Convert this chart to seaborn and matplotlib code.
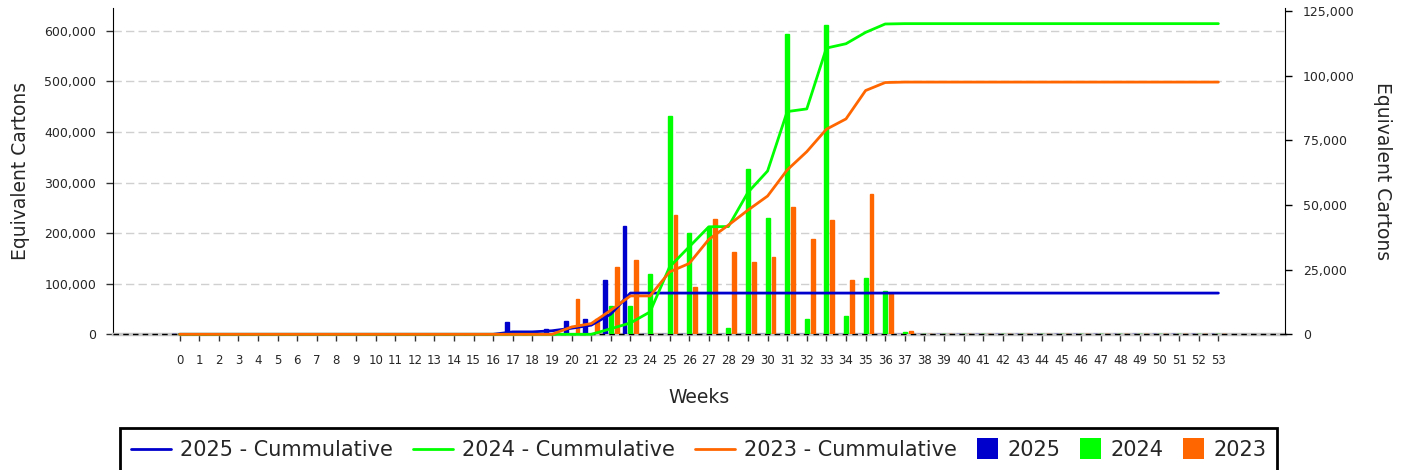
import matplotlib
matplotlib.use("Agg")
import matplotlib.pyplot as plt
from matplotlib.lines import Line2D
from matplotlib.patches import Patch
from matplotlib.legend_handler import HandlerPatch
from matplotlib.ticker import FuncFormatter
import pandas as pd
import seaborn as sns

# Weeks 0..53
weeks = list(range(54))

# Weekly volumes (right axis)
weekly_2025 = [0, 0, 0, 0, 0, 0, 0, 0, 0, 0,
               0, 0, 0, 0, 0, 0, 0, 4800, 0, 2200,
               5000, 6100, 20900, 42000, 0, 0, 0, 0, 0, 0,
               0, 0, 0, 0, 0, 0, 0, 0, 0, 0,
               0, 0, 0, 0, 0, 0, 0, 0, 0, 0,
               0, 0, 0, 0]
weekly_2024 = [0, 0, 0, 0, 0, 0, 0, 0, 0, 0,
               0, 0, 0, 0, 0, 0, 0, 0, 0, 0,
               0, 0, 10800, 10800, 23200, 84400, 39100, 41500, 2400, 63900,
               44900, 116200, 5800, 119600, 7000, 21700, 16600, 800, 0, 0,
               0, 0, 0, 0, 0, 0, 0, 0, 0, 0,
               0, 0, 0, 0]
weekly_2023 = [0, 0, 0, 0, 0, 0, 0, 0, 0, 0,
               0, 0, 0, 0, 0, 0, 0, 0, 0, 0,
               13500, 6100, 26000, 28600, 0, 46000, 18300, 44500, 31700, 27900,
               29800, 49200, 36800, 44100, 20900, 54200, 15900, 1200, 0, 0,
               0, 0, 0, 0, 0, 0, 0, 0, 0, 0,
               0, 0, 0, 0]

# Cumulative volumes (left axis)
cum_2025 = [0, 0, 0, 0, 0, 0, 0, 0, 0, 0,
            0, 0, 0, 0, 0, 0, 0, 4800, 4800, 7000,
            12000, 18100, 40000, 81500, 81500, 81500, 81500, 81500, 81500, 81500,
            81500, 81500, 81500, 81500, 81500, 81500, 81500, 81500, 81500, 81500,
            81500, 81500, 81500, 81500, 81500, 81500, 81500, 81500, 81500, 81500,
            81500, 81500, 81500, 81500]
cum_2024 = [0, 0, 0, 0, 0, 0, 0, 0, 0, 0,
            0, 0, 0, 0, 0, 0, 0, 0, 0, 0,
            0, 0, 11000, 22400, 44200, 133300, 172900, 212500, 213000, 280600,
            322800, 440200, 445500, 565700, 574300, 596700, 613300, 614000, 614000, 614000,
            614000, 614000, 614000, 614000, 614000, 614000, 614000, 614000, 614000, 614000,
            614000, 614000, 614000, 614000]
cum_2023 = [0, 0, 0, 0, 0, 0, 0, 0, 0, 0,
            0, 0, 0, 0, 0, 0, 0, 0, 0, 0,
            14500, 21200, 47500, 75900, 75900, 123400, 140000, 187500, 215800, 245500,
            273300, 324800, 361000, 405300, 425700, 481800, 497600, 498500, 498500, 498500,
            498500, 498500, 498500, 498500, 498500, 498500, 498500, 498500, 498500, 498500,
            498500, 498500, 498500, 498500]

years = ["2025", "2024", "2023"]
colors = {"2025": "#0000cc", "2024": "#00ff00", "2023": "#ff6600"}

bars_df = pd.DataFrame({
    "week": weeks * 3,
    "year": ["2025"] * 54 + ["2024"] * 54 + ["2023"] * 54,
    "value": weekly_2025 + weekly_2024 + weekly_2023,
})
lines_df = pd.DataFrame({
    "week": weeks * 3,
    "year": ["2025"] * 54 + ["2024"] * 54 + ["2023"] * 54,
    "value": cum_2025 + cum_2024 + cum_2023,
})

sns.set_style("ticks")
plt.rcParams["font.family"] = ["DejaVu Sans"]

fig = plt.figure(figsize=(14.07, 4.70), dpi=100)
rect = [0.0803, 0.2887, 0.9133 - 0.0803, 0.982 - 0.2887]
ax = fig.add_axes(rect)
ax2 = ax.twinx()
ax3 = fig.add_axes(rect, sharex=ax, sharey=ax)

# weekly bars on the right axis
sns.barplot(data=bars_df, x="week", y="value", hue="year", hue_order=years,
            palette=colors, native_scale=True, width=0.9, gap=0.33,
            saturation=1, legend=False, ax=ax2, zorder=1)
for p in ax2.patches:
    p.set_edgecolor(p.get_facecolor())
    p.set_linewidth(1)
ax2.axhline(0, color="black", lw=1, ls=(0, (4, 3)), zorder=0.5, clip_on=False)

# cumulative lines on the left axis
sns.lineplot(data=lines_df, x="week", y="value", hue="year", hue_order=years,
             palette=colors, linewidth=2.0, legend=False, ax=ax3)
for ln in ax3.lines:
    ln.set_clip_on(False)
ax3.axis("off")
ax3.patch.set_visible(False)

ax.set_xlim(-3.4, 56.4)
ax.set_ylim(0, 644000)
ax2.set_ylim(0, 126000)
ax.set_xticks(weeks)
ax.set_xticklabels([str(w) for w in weeks])
ax.set_yticks(range(0, 600001, 100000))
ax2.set_yticks(range(0, 125001, 25000))
fmt = FuncFormatter(lambda v, p: f"{int(v):,}")
ax.yaxis.set_major_formatter(fmt)
ax2.yaxis.set_major_formatter(fmt)

ax.yaxis.grid(True, color="#d0d0d0", lw=1.0, ls=(0, (6, 3)))
ax.xaxis.grid(False)

for s in ["top", "right"]:
    ax.spines[s].set_visible(False)
ax.spines["left"].set_color("black")
ax.spines["bottom"].set_color("#c8c8c8")
ax.spines["bottom"].set_linewidth(2.5)
for s in ["top", "left", "bottom"]:
    ax2.spines[s].set_visible(False)
ax2.spines["right"].set_color("black")

ax.tick_params(axis="x", length=5, width=1, color="#333333", labelsize=8.5, pad=9)
ax.tick_params(axis="y", length=5, width=1, color="#333333", labelsize=9, pad=7)
ax2.tick_params(axis="y", length=5, width=1, color="black", labelsize=9, pad=8)
ax2.tick_params(axis="x", bottom=False, labelbottom=False)

ax.set_xlabel("Weeks", fontsize=13.5, labelpad=15)
ax.set_ylabel("Equivalent Cartons", fontsize=13.5, labelpad=10)
ax2.set_ylabel("Equivalent Cartons", fontsize=13.5, rotation=270, va="bottom", labelpad=13)


class SquareHandler(HandlerPatch):
    def legend_artist(self, legend, orig_handle, fontsize, handlebox):
        handlebox.width = 1.0 * fontsize
        handlebox.height = 1.0 * fontsize
        handlebox.ydescent = 0.14 * fontsize
        return super().legend_artist(legend, orig_handle, fontsize, handlebox)


handles = [Line2D([], [], color=colors[y], lw=2) for y in years]
handles += [Patch(facecolor=colors[y], edgecolor="none") for y in years]
labels = [f"{y} - Cummulative" for y in years] + years
leg = fig.legend(handles, labels, loc="upper center", bbox_to_anchor=(0.4964, 0.0894),
                 ncol=6, fontsize=15, frameon=True, fancybox=False, edgecolor="black",
                 framealpha=1, handlelength=1.92, handletextpad=0.45,
                 columnspacing=0.95, borderpad=0.5, borderaxespad=0,
                 handler_map={Patch: SquareHandler()})
leg.get_frame().set_linewidth(2)

fig.savefig("out.png", dpi=100)
